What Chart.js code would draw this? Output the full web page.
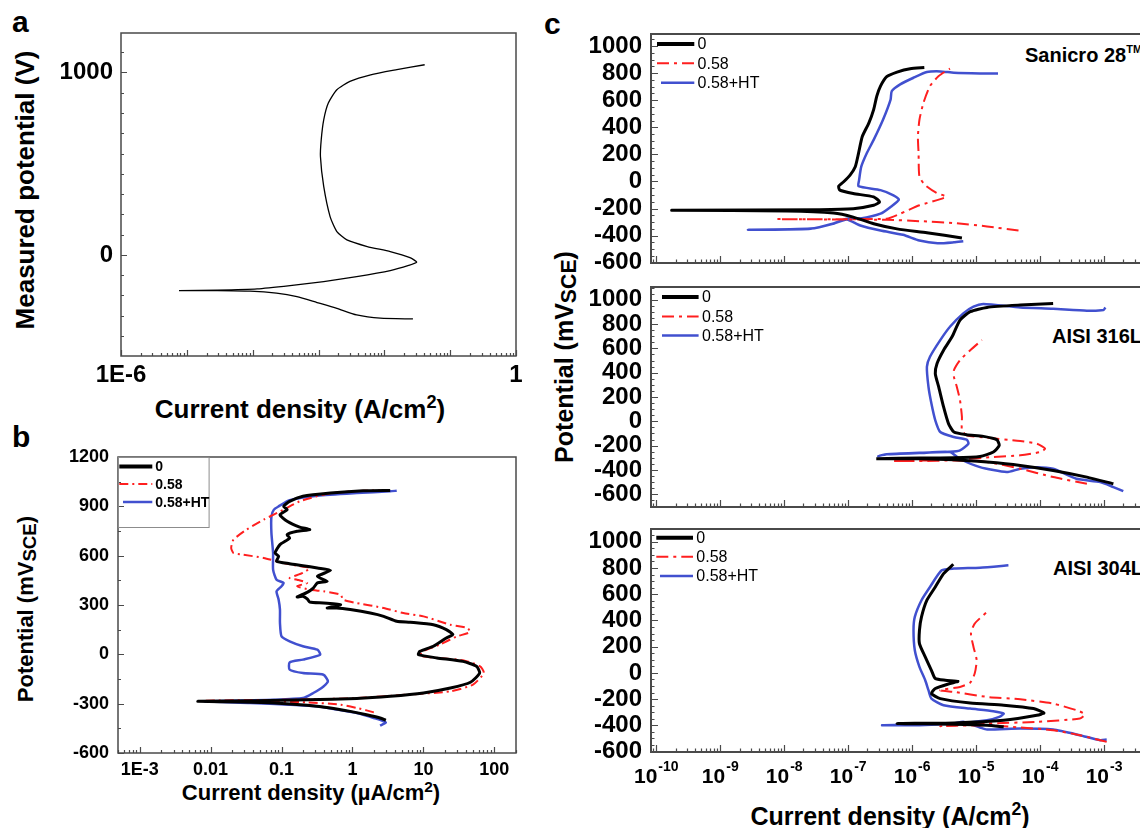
<!doctype html>
<html lang="en">
<head>
<meta charset="utf-8">
<title>Polarization curves</title>
<script src="https://cdn.jsdelivr.net/npm/chart.js@4.4.1/dist/chart.umd.min.js"></script>
<style>
    html, body { margin: 0; padding: 0; width: 1140px; height: 828px; overflow: hidden; background: #fff; }
    #fig { position: relative; width: 1140px; height: 828px; font-family: "Liberation Sans", Arial, sans-serif; }
    #fig canvas { position: absolute; }
    .t { position: absolute; font-weight: bold; color: #000; line-height: 1; white-space: nowrap; }
    .ct { transform: translate(-50%, -50%); }
    .vt { transform: translate(-50%, -50%) rotate(-90deg); }
    .sup { font-size: 0.7em; vertical-align: 0.55em; line-height: 0; }
    .sub { font-size: 0.85em; vertical-align: -0.15em; }
</style>
</head>
<body>
<div id="fig">
    <div class="t" style="left:12px;top:7px;font-size:30px">a</div>
    <div class="t" style="left:12px;top:422px;font-size:30px">b</div>
    <div class="t" style="left:544px;top:9px;font-size:30px">c</div>

    <div class="t vt" style="left:25px;top:190px;font-size:26px">Measured potential (V)</div>
    <div class="t ct" style="left:300px;top:409px;font-size:26px">Current density (A/cm<span class="sup">2</span>)</div>

    <div class="t vt" style="left:27px;top:609px;font-size:22px">Potential (mV<span class="sub">SCE</span>)</div>
    <div class="t ct" style="left:311px;top:793px;font-size:22px">Current density (µA/cm<span class="sup">2</span>)</div>

    <div class="t vt" style="left:566px;top:357px;font-size:25px">Potential (mV<span class="sub">SCE</span>)</div>
    <div class="t ct" style="left:890px;top:816px;font-size:25px">Current density (A/cm<span class="sup">2</span>)</div>

    <div class="t" style="left:1025px;top:45px;font-size:20px">Sanicro 28<span style="font-size:11px;position:relative;top:-9px">TM</span></div>
    <div class="t" style="left:1052px;top:326px;font-size:20px">AISI 316L</div>
    <div class="t" style="left:1053px;top:558px;font-size:20px">AISI 304L</div>
</div>

<script>
    // ---- panel a : single curve, A/cm2 vs mV ----
    const aCurrent = [2.72e-2, 8.7e-3, 3.8e-3, 1.9e-3, 9.5e-4, 4.7e-4, 2.3e-4, 9.1e-5, 2.9e-5, 7.6e-6,
        2.9e-5, 1.17e-4, 3.7e-4, 1.2e-3, 3.8e-3, 1.23e-2, 2.34e-2, 3.1e-2, 2.45e-2, 1.23e-2,
        5.5e-3, 2.7e-3, 1.9e-3, 1.5e-3, 1.2e-3, 1.07e-3, 1.1e-3, 1.2e-3, 1.41e-3, 1.9e-3,
        3.0e-3, 6.2e-3, 1.55e-2, 4.1e-2];
    const aPotential = [-351, -347, -329, -293, -261, -229, -210, -199, -196, -196,
        -193, -186, -168, -146, -119, -86, -58, -40, -15, 18,
        46, 82, 128, 210, 375, 539, 631, 740, 832, 905,
        951, 987, 1015, 1042];
    const aDecades = [-6, -5, -4, -3, -2, -1, 0];
    const aXLabels = ['1E-6', '', '', '', '', '', '1'];
    const aYMajor = [0, 1000];

    // ---- panel b : µA/cm2 vs mV(SCE) ----
    const seriesNames = ['0', '0.58', '0.58+HT'];
    const bCur0 = [2.95, 2.45, 1.58, 0.93, 0.49, 0.23, 0.078, 0.026, 0.0066, 0.045,
        0.23, 1.15, 3.4, 10, 24, 46, 62, 56, 36, 15.5,
        8.5, 8.9, 13.8, 21, 26, 21, 13.8, 6.5, 4.2, 2.75,
        1.78, 0.93, 0.6, 0.44, 0.68, 0.39, 0.25, 0.23, 0.2, 0.166,
        0.23, 0.28, 0.32, 0.44, 0.32, 0.49, 0.32, 0.2, 0.13, 0.085,
        0.091, 0.081, 0.095, 0.13, 0.12, 0.166, 0.25, 0.18, 0.12, 0.095,
        0.12, 0.107, 0.13, 0.2, 0.49, 1.41, 3.4];
    const bPot0 = [-401, -387, -367, -347, -326, -310, -296, -290, -286, -282,
        -276, -268, -255, -235, -205, -170, -114, -73, -43, -22,
        -2, 18, 49, 99, 120, 150, 180, 195, 201, 231,
        251, 272, 282, 282, 302, 312, 318, 337, 353, 349,
        377, 403, 434, 444, 474, 511, 525, 539, 551, 566,
        596, 616, 667, 707, 728, 748, 758, 774, 809, 849,
        880, 900, 930, 961, 981, 995, 997];
    const bCur058 = [2.0, 1.58, 1.15, 0.68, 0.23, 0.045, 0.0083, 0.13, 1.15, 5.9,
        24, 50, 71, 63, 36, 15.5, 8.9, 9.8, 17, 29.5,
        45, 42, 24, 10, 5.2, 2.75, 1.15, 0.74, 0.68, 0.39,
        0.25, 0.166, 0.23, 0.166, 0.13, 0.2, 0.25, 0.166, 0.107, 0.056,
        0.029, 0.021, 0.0195, 0.021, 0.032, 0.056, 0.107, 0.18, 0.39, 0.93,
        2.45];
    const bPot058 = [-353, -341, -326, -306, -292, -286, -282, -276, -266, -245,
        -225, -184, -114, -73, -36, -22, -8, 18, 59, 109,
        134, 160, 180, 231, 251, 282, 312, 332, 363, 383,
        393, 414, 434, 454, 464, 495, 525, 539, 555, 586,
        606, 616, 647, 697, 758, 819, 880, 930, 971, 991,
        997];
    const bCurHT = [2.45, 2.95, 2.0, 1.15, 0.6, 0.32, 0.13, 0.036, 0.0083, 0.078,
        0.2, 0.28, 0.39, 0.45, 0.39, 0.2, 0.13, 0.13, 0.2, 0.35,
        0.32, 0.2, 0.13, 0.1, 0.095, 0.095, 0.091, 0.085, 0.1, 0.107,
        0.085, 0.076, 0.076, 0.072, 0.072, 0.078, 0.091, 0.13, 0.32, 1.15,
        3.4, 4.2];
    const bPotHT = [-434, -414, -387, -357, -336, -316, -306, -296, -286, -276,
        -266, -235, -195, -164, -124, -114, -93, -49, -32, -2,
        28, 49, 79, 109, 191, 272, 332, 383, 414, 434,
        454, 515, 616, 738, 839, 880, 900, 937, 965, 981,
        991, 995];
    const bDecades = [-4, -3, -2, -1, 0, 1, 2];
    const bXLabels = ['', '1E-3', '0.01', '0.1', '1', '10', '100'];
    const bYMajor = [-600, -300, 0, 300, 600, 900, 1200];

    // ---- panel c : A/cm2 vs mV(SCE), three alloys ----
    const s28Cur0 = [6.0e-6, 1.7e-6, 5.8e-7, 2.5e-7, 1.2e-7, 5.9e-8, 1.1e-8, 1.74e-10, 3.6e-8, 1.2e-7,
        2.5e-7, 3.1e-7, 2.5e-7, 1.2e-7, 7.4e-8, 7.1e-8, 8.5e-8, 1.07e-7, 1.29e-7, 1.45e-7,
        1.66e-7, 2.1e-7, 2.5e-7, 2.8e-7, 3.2e-7, 4.0e-7, 5.8e-7, 9.3e-7, 1.55e-6];
    const s28Pot0 = [-417, -379, -350, -312, -263, -233, -218, -213, -208, -201,
        -176, -151, -114, -89, -64, -35, -2, 47, 109, 208,
        332, 431, 531, 630, 704, 774, 808, 833, 841];
    const s28Cur058 = [4.6e-5, 1.48e-5, 4.5e-6, 1.3e-6, 4.0e-7, 7.8e-9, 4.0e-7, 6.5e-7, 1.3e-6, 3.4e-6,
        2.4e-6, 1.6e-6, 1.3e-6, 1.26e-6, 1.23e-6, 1.3e-6, 1.5e-6, 1.9e-6, 2.6e-6, 3.9e-6];
    const s28Pot058 = [-362, -332, -307, -293, -283, -278, -275, -238, -176, -114,
        -84, -27, 35, 208, 332, 456, 580, 704, 779, 833];
    const s28CurHT = [6.3e-6, 4.5e-6, 2.5e-6, 1.3e-6, 7.2e-7, 3.2e-7, 1.55e-7, 9.5e-8, 5.9e-8, 2.6e-8,
        2.7e-9, 2.6e-8, 5.9e-8, 9.5e-8, 1.55e-7, 3.2e-7, 4.6e-7, 6.2e-7, 5.1e-7, 3.2e-7,
        1.45e-7, 1.48e-7, 1.6e-7, 1.95e-7, 2.5e-7, 3.5e-7, 4.6e-7, 4.8e-7, 6.5e-7, 1.05e-6,
        1.7e-6, 2.75e-6, 4.5e-6, 1.15e-5, 2.2e-5];
    const s28PotHT = [-441, -449, -456, -436, -394, -362, -325, -280, -312, -350,
        -357, -348, -310, -275, -273, -238, -188, -134, -102, -64,
        -35, 10, 109, 208, 307, 456, 605, 667, 717, 766,
        808, 813, 803, 798, 798];

    const s316Cur0 = [1.4e-3, 5.4e-4, 1.6e-4, 4.9e-5, 1.48e-5, 4.5e-6, 1.3e-6, 2.75e-7, 1.3e-6, 4.5e-6,
        1.15e-5, 1.86e-5, 2.3e-5, 2.1e-5, 1.3e-5, 7.1e-6, 4.5e-6, 3.7e-6, 3.1e-6, 2.6e-6,
        2.3e-6, 2.45e-6, 3.1e-6, 4.2e-6, 5.6e-6, 8.1e-6, 1.48e-5, 4.9e-5, 1.6e-4];
    const s316Pot0 = [-514, -459, -404, -363, -335, -316, -308, -308, -302, -300,
        -289, -253, -198, -151, -124, -110, -88, -19, 118, 283,
        393, 476, 585, 695, 833, 902, 937, 957, 970];
    const s316Cur058 = [5.4e-4, 1.6e-4, 4.9e-5, 1.48e-5, 4.5e-6, 1.3e-6, 4.8e-7, 4.5e-6, 1.86e-5, 4.9e-5,
        1.0e-4, 1.2e-4, 8.9e-5, 4.9e-5, 1.48e-5, 7.1e-6, 6.0e-6, 6.0e-6, 5.6e-6, 5.0e-6,
        4.5e-6, 4.5e-6, 5.6e-6, 8.1e-6, 1.23e-5];
    const s316Pot058 = [-514, -459, -390, -335, -322, -327, -327, -316, -294, -280,
        -253, -225, -184, -162, -135, -115, -74, 36, 173, 283,
        366, 420, 503, 585, 668];
    const s316CurHT = [2.0e-3, 1.4e-3, 8.7e-4, 3.7e-4, 1.6e-4, 8.9e-5, 4.9e-5, 3.0e-5, 1.15e-5, 5.5e-6,
        3.9e-6, 1.3e-6, 4.0e-7, 2.95e-7, 4.0e-7, 1.3e-6, 3.9e-6, 5.6e-6, 7.6e-6, 7.1e-6,
        4.5e-6, 2.75e-6, 2.3e-6, 2.0e-6, 1.8e-6, 1.7e-6, 1.9e-6, 2.75e-6, 3.9e-6, 6.3e-6,
        9.1e-6, 1.3e-5, 4.9e-5, 1.6e-4, 5.4e-4, 9.8e-4, 1.05e-3];
    const s316PotHT = [-574, -541, -500, -473, -390, -377, -390, -418, -377, -308,
        -253, -261, -272, -286, -270, -259, -251, -239, -184, -151,
        -129, -88, 8, 146, 283, 448, 531, 668, 778, 888,
        943, 965, 937, 926, 910, 915, 937];

    const s304Cur0 = [2.7e-5, 1.48e-5, 4.5e-6, 5.8e-7, 4.5e-6, 2.7e-5, 8.9e-5, 1.15e-4, 7.9e-5, 2.7e-5,
        8.1e-6, 2.75e-6, 2.0e-6, 2.3e-6, 3.9e-6, 5.2e-6, 3.3e-6, 2.3e-6, 2.0e-6, 1.6e-6,
        1.3e-6, 1.3e-6, 1.4e-6, 1.7e-6, 2.3e-6, 3.1e-6, 4.4e-6];
    const s304Pot0 = [-411, -399, -391, -386, -381, -361, -323, -305, -272, -246,
        -229, -196, -157, -119, -81, -64, -56, -43, 20, 122,
        223, 325, 427, 554, 655, 757, 828];
    const s304Cur058 = [1.1e-3, 8.7e-4, 4.2e-4, 1.6e-4, 4.9e-5, 1.48e-5, 2.75e-6, 1.48e-5, 8.9e-5, 4.2e-4,
        5.0e-4, 3.7e-4, 1.6e-4, 4.9e-5, 1.48e-5, 4.5e-6, 2.75e-6, 5.6e-6, 8.1e-6, 9.5e-6,
        1.02e-5, 9.1e-6, 8.3e-6, 9.5e-6, 1.48e-5];
    const s304Pot058 = [-526, -513, -475, -437, -416, -399, -406, -386, -373, -348,
        -315, -284, -234, -201, -183, -145, -132, -107, -74, -5,
        97, 198, 300, 376, 465];
    const s304CurHT = [1.1e-3, 8.7e-4, 4.2e-4, 1.6e-4, 4.9e-5, 1.48e-5, 1.15e-5, 6.3e-6, 4.5e-6, 1.3e-6,
        3.4e-7, 4.5e-6, 1.48e-5, 2.3e-5, 2.7e-5, 1.86e-5, 8.1e-6, 3.1e-6, 2.0e-6, 1.8e-6,
        1.6e-6, 1.3e-6, 1.1e-6, 1.05e-6, 1.1e-6, 1.4e-6, 1.9e-6, 2.9e-6, 4.5e-6, 1.15e-5,
        3.2e-5];
    const s304PotHT = [-508, -513, -475, -432, -424, -432, -416, -373, -386, -399,
        -399, -386, -361, -335, -310, -292, -272, -246, -196, -132,
        -56, 46, 173, 325, 427, 554, 655, 782, 795, 802,
        820];

    const cDecades = [-11, -10, -9, -8, -7, -6, -5, -4, -3, -2];
    const cExponents = ['-10', '-9', '-8', '-7', '-6', '-5', '-4', '-3'];
    const cYMajor = [-600, -400, -200, 0, 200, 400, 600, 800, 1000];

    // ---- helpers ----
    const FONT = "'Liberation Sans', Arial, sans-serif";
    const RED = '#ff1f1f', BLUE = '#4150cf';

    let pts = (xs, ys) => xs.map((x, i) => ({ x: x, y: ys[i] }));

    let logTicks = (decades, min, max) => {
        let t = [];
        decades.forEach(e => {
            for (let m = 1; m < 10; m++) {
                let v = m * Math.pow(10, e);
                if (v >= min * 0.999 && v <= max * 1.001) t.push({ value: v, major: m === 1 });
            }
        });
        return t;
    };

    let linTicks = (majors, step, min, max) => {
        let t = [];
        let start = majors[0] - Math.floor((majors[0] - min) / step) * step;
        for (let v = start; v <= max + 0.01; v += step) {
            let major = majors.some(m => Math.abs(m - v) < 0.01);
            t.push({ value: major ? Math.round(v) : v, major: major });
        }
        return t;
    };

    let decadeLabel = (decades, labels) => (v, i, ticks) => {
        if (!ticks[i].major) return '';
        let k = decades.indexOf(Math.round(Math.log10(v)));
        return k < 0 ? '' : labels[k];
    };
    let majorLabel = (v, i, ticks) => ticks[i].major ? String(Math.round(v)) : '';

    // frame round the plot area and inward tick marks
    const frameTicks = {
        id: 'frameTicks',
        afterDatasetsDraw(chart, args, o) {
            const ctx = chart.ctx, a = chart.chartArea;
            const xs = chart.scales.x, ys = chart.scales.y;
            ctx.save();
            ctx.strokeStyle = o.color;
            ctx.lineWidth = 1.2;
            ctx.beginPath();
            xs.ticks.forEach(t => {
                const px = Math.round(xs.getPixelForValue(t.value)) + 0.5;
                ctx.moveTo(px, a.bottom);
                ctx.lineTo(px, a.bottom - (t.major ? o.major : o.minor));
            });
            ys.ticks.forEach(t => {
                const py = Math.round(ys.getPixelForValue(t.value)) + 0.5;
                ctx.moveTo(a.left, py);
                ctx.lineTo(a.left + (t.major ? o.major : o.minor), py);
            });
            ctx.stroke();
            ctx.lineWidth = o.width;
            ctx.strokeRect(a.left, a.top, a.right - a.left, a.bottom - a.top);
            ctx.restore();
        }
    };

    // legend drawn inside the plot, in the corner
    const lineLegend = {
        id: 'lineLegend',
        afterDraw(chart, args, o) {
            if (!o.rows) return;
            const ctx = chart.ctx, a = chart.chartArea;
            ctx.save();
            if (o.box) {
                ctx.strokeStyle = '#8c8c8c';
                ctx.lineWidth = 1;
                ctx.strokeRect(a.left + 0.5, a.top + 0.5, o.box[0], o.box[1]);
            }
            ctx.font = o.font;
            ctx.fillStyle = '#000';
            ctx.textBaseline = 'middle';
            chart.data.datasets.forEach((ds, i) => {
                const y = a.top + o.rows[i];
                ctx.strokeStyle = ds.borderColor;
                ctx.lineWidth = ds.borderWidth + (i === 0 ? 1 : 0);
                ctx.setLineDash(ds.borderDash || []);
                ctx.beginPath();
                ctx.moveTo(a.left + o.x0[i], y);
                ctx.lineTo(a.left + o.x1, y);
                ctx.stroke();
                ctx.setLineDash([]);
                ctx.fillText(ds.label, a.left + o.tx, y + 1);
            });
            ctx.restore();
        }
    };

    // 10^n labels with a raised exponent
    const expLabels = {
        id: 'expLabels',
        afterDraw(chart, args, o) {
            if (!o.exps) return;
            const ctx = chart.ctx, xs = chart.scales.x;
            const y = chart.chartArea.bottom + o.dy;
            ctx.save();
            ctx.fillStyle = '#000';
            ctx.textBaseline = 'alphabetic';
            o.exps.forEach(e => {
                const px = xs.getPixelForValue(Math.pow(10, Number(e)));
                ctx.font = 'bold 21px ' + FONT;
                const wb = ctx.measureText('10').width;
                ctx.font = 'bold 14px ' + FONT;
                const we = ctx.measureText(e).width;
                const x0 = px - (wb + 1 + we) / 2;
                ctx.font = 'bold 21px ' + FONT;
                ctx.fillText('10', x0, y);
                ctx.font = 'bold 14px ' + FONT;
                ctx.fillText(e, x0 + wb + 1, y - 12);
            });
            ctx.restore();
        }
    };

    let makeChart = (c) => {
        let cv = document.createElement('canvas');
        cv.width = c.w;
        cv.height = c.h;
        cv.style.left = c.left + 'px';
        cv.style.top = c.top + 'px';
        document.getElementById('fig').appendChild(cv);

        return new Chart(cv, {
            type: 'scatter',
            data: { datasets: c.datasets },
            options: {
                responsive: false,
                animation: false,
                events: [],
                layout: { autoPadding: false, padding: { left: 0, top: c.padTop, right: c.padRight, bottom: 0 } },
                elements: { point: { radius: 0 }, line: { tension: 0.2 } },
                plugins: {
                    legend: { display: false },
                    tooltip: { enabled: false },
                    frameTicks: { color: '#4a4a4a', width: c.frame, major: c.tickMajor, minor: c.tickMinor },
                    lineLegend: c.legend || {},
                    expLabels: c.exp || {}
                },
                scales: {
                    x: {
                        type: 'logarithmic',
                        min: c.xMin, max: c.xMax,
                        afterFit: s => { s.height = c.xh; s.paddingLeft = 0; s.paddingRight = 0; },
                        afterBuildTicks: s => { s.ticks = c.xTicks; },
                        grid: { display: false, drawTicks: false },
                        border: { display: false },
                        ticks: {
                            display: !!c.xLabel, autoSkip: false, maxRotation: 0,
                            padding: c.xPad, color: '#000',
                            font: { family: FONT, size: c.tickSize, weight: 'bold' },
                            callback: c.xLabel || (() => '')
                        }
                    },
                    y: {
                        type: 'linear',
                        min: c.yMin, max: c.yMax,
                        afterFit: s => { s.width = c.yw; s.paddingTop = 0; s.paddingBottom = 0; },
                        afterBuildTicks: s => { s.ticks = c.yTicks; },
                        grid: { display: false, drawTicks: false },
                        border: { display: false },
                        ticks: {
                            autoSkip: false, padding: c.yPad, color: '#000',
                            font: { family: FONT, size: c.yTickSize || c.tickSize, weight: 'bold' },
                            callback: majorLabel
                        }
                    }
                }
            },
            plugins: [frameTicks, lineLegend, expLabels]
        });
    };

    let triple = (cur0, pot0, cur1, pot1, cur2, pot2, dash) => [
        { label: seriesNames[0], data: pts(cur0, pot0), showLine: true, borderColor: '#000', borderWidth: 3 },
        { label: seriesNames[1], data: pts(cur1, pot1), showLine: true, borderColor: RED, borderWidth: 2, borderDash: dash },
        { label: seriesNames[2], data: pts(cur2, pot2), showLine: true, borderColor: BLUE, borderWidth: 2.5 }
    ];

    // panel a
    makeChart({
        left: 30, top: 20, w: 500, h: 380, yw: 91, xh: 44, padTop: 13, padRight: 14,
        xMin: 1e-6, xMax: 1, yMin: -554, yMax: 1216,
        xTicks: logTicks(aDecades, 1e-6, 1), yTicks: linTicks(aYMajor, 1000 / 9, -554, 1216),
        xLabel: decadeLabel(aDecades, aXLabels), tickSize: 24, xPad: 5, yPad: 8,
        frame: 1.5, tickMajor: 6, tickMinor: 3,
        datasets: [{ label: 'a', data: pts(aCurrent, aPotential), showLine: true, borderColor: '#000', borderWidth: 1.3 }]
    });

    // panel b
    makeChart({
        left: 30, top: 445, w: 500, h: 360, yw: 88, xh: 52, padTop: 12, padRight: 14,
        xMin: 4.95e-4, xMax: 201.8, yMin: -600, yMax: 1200,
        xTicks: logTicks(bDecades, 4.95e-4, 201.8), yTicks: linTicks(bYMajor, 150, -600, 1200),
        xLabel: decadeLabel(bDecades, bXLabels), tickSize: 18, xPad: 6, yPad: 9,
        frame: 1.5, tickMajor: 6, tickMinor: 3,
        legend: { rows: [9.4, 27, 45], x0: [1.3, 1.3, 5], x1: 34.3, tx: 37.3, font: 'bold 14px ' + FONT, box: [90.6, 70] },
        datasets: triple(bCur0, bPot0, bCur058, bPot058, bCurHT, bPotHT, [9, 4, 2, 4])
    });

    // panel c, three stacked plots sharing the current axis
    let cBase = {
        left: 575, w: 605, yw: 76, padRight: 12,
        xMin: 8.26e-11, xMax: 1e-2, xTicks: null,
        tickSize: 24, yPad: 9, xPad: 4, frame: 2, tickMajor: 7, tickMinor: 3.5
    };
    let cLegend = (rows, x0, x1, tx) => ({ rows: rows, x0: x0, x1: x1, tx: tx, font: '16px ' + FONT });

    makeChart(Object.assign({}, cBase, {
        top: 25, h: 255, padTop: 9, xh: 17, yMin: -602, yMax: 1089,
        xTicks: logTicks(cDecades, 8.26e-11, 1e-2), yTicks: linTicks(cYMajor, 50, -602, 1089),
        legend: cLegend([10, 29.3, 48.7], [6, 6, 10], 43.3, 46.6),
        datasets: triple(s28Cur0, s28Pot0, s28Cur058, s28Pot058, s28CurHT, s28PotHT, [12, 5, 3, 5])
    }));

    makeChart(Object.assign({}, cBase, {
        top: 278, h: 240, padTop: 9, xh: 11, yMin: -705, yMax: 1105,
        xTicks: logTicks(cDecades, 8.26e-11, 1e-2), yTicks: linTicks(cYMajor, 50, -705, 1105),
        legend: cLegend([10, 29.4, 48.4], [11, 11, 11], 47.6, 51),
        datasets: triple(s316Cur0, s316Pot0, s316Cur058, s316Pot058, s316CurHT, s316PotHT, [12, 5, 3, 5])
    }));

    makeChart(Object.assign({}, cBase, {
        top: 518, h: 310, padTop: 11, xh: 76, yMin: -603, yMax: 1097,
        xTicks: logTicks(cDecades, 8.26e-11, 1e-2), yTicks: linTicks(cYMajor, 50, -603, 1097),
        legend: cLegend([8.7, 27.7, 47], [5.3, 5.3, 9], 42, 45.3),
        exp: { exps: cExponents, dy: 31 },
        datasets: triple(s304Cur0, s304Pot0, s304Cur058, s304Pot058, s304CurHT, s304PotHT, [12, 5, 3, 5])
    }));
</script>
</body>
</html>
